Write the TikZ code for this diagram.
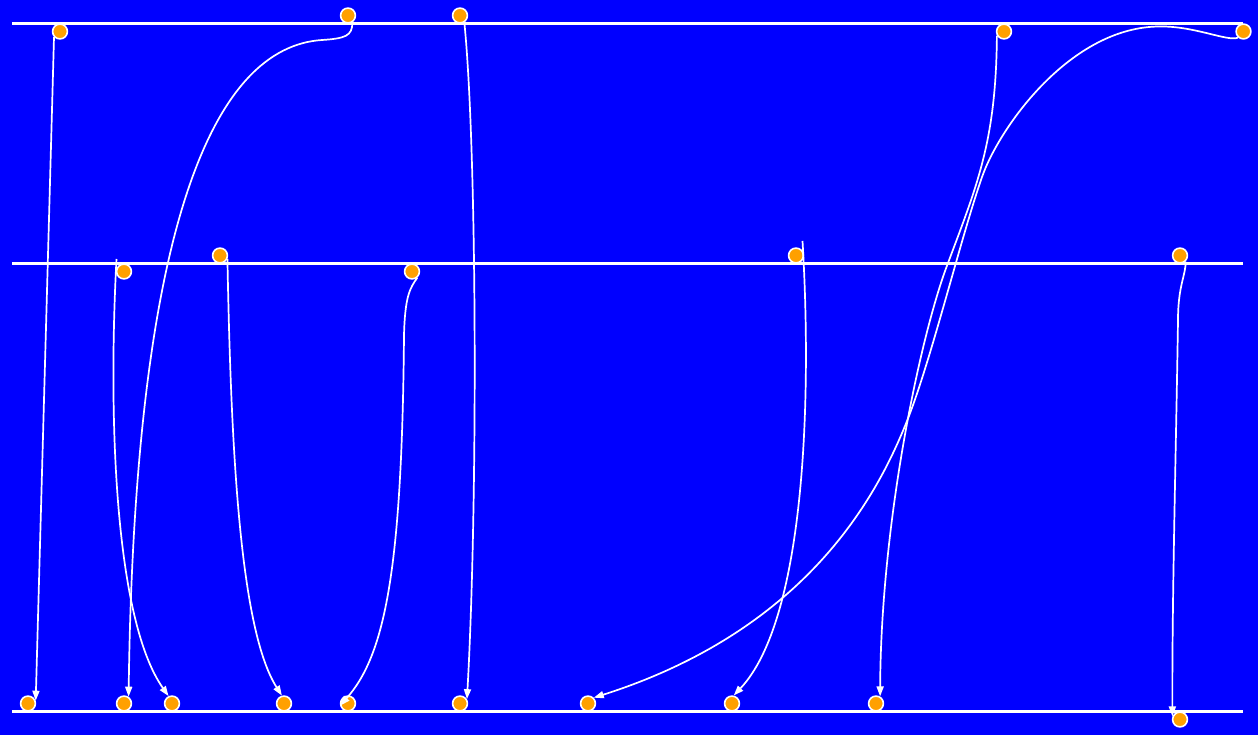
\documentclass[tikz,border=0pt]{standalone}
\usetikzlibrary{arrows.meta}
\definecolor{bg}{RGB}{0,0,255}
\definecolor{dot}{RGB}{255,160,0}
\begin{document}
\begin{tikzpicture}[x=1pt,y=-1pt,
  dotnode/.style={circle,fill=dot,draw=white,line width=1.6pt,minimum size=14.8pt,inner sep=0pt},
  guide/.style={white,line width=2.1pt},
  edge/.style={white,line width=1.7pt,-{Triangle[length=10pt,width=7pt]}}]
\fill[bg] (0,0) rectangle (1258,735);
\useasboundingbox (0,0) rectangle (1258,735);
% guide lines
\coordinate (L1a) at (12,23.5);  \coordinate (L1b) at (1243,23.5);
\coordinate (L2a) at (12,263.5); \coordinate (L2b) at (1243,263.5);
\coordinate (L3a) at (12,711.5); \coordinate (L3b) at (1243,711.5);
\draw[guide] (L1a) -- (L1b);
\draw[guide] (L2a) -- (L2b);
\draw[guide] (L3a) -- (L3b);
% top row
\node[dotnode] (t1) at (60,31.5) {};
\node[dotnode] (t2) at (348,15.5) {};
\node[dotnode] (t3) at (460,15.5) {};
\node[dotnode] (t4) at (1004,31.5) {};
\node[dotnode] (t5) at (1243.5,31.5) {};
% middle row
\node[dotnode] (m1) at (124,271.5) {};
\node[dotnode] (m2) at (220,255.5) {};
\node[dotnode] (m3) at (412,271.5) {};
\node[dotnode] (m4) at (796,255.5) {};
\node[dotnode] (m5) at (1180,255.5) {};
% bottom row
\node[dotnode] (b1) at (28,703.5) {};
\node[dotnode] (b2) at (124,703.5) {};
\node[dotnode] (b3) at (172,703.5) {};
\node[dotnode] (b4) at (284,703.5) {};
\node[dotnode] (b5) at (348,703.5) {};
\node[dotnode] (b6) at (460,703.5) {};
\node[dotnode] (b7) at (588,703.5) {};
\node[dotnode] (b8) at (732,703.5) {};
\node[dotnode] (b9) at (876,703.5) {};
\node[dotnode] (b10) at (1180,719.5) {};
% free ends
\coordinate (s6) at (116.5,259);
\coordinate (s9) at (802.5,241);
% edges
\draw[edge] (t1.-137) -- (b1.20);
\draw[edge] (t2.-58) .. controls (352.5,36) and (345,38.5) .. (322,40)
  .. controls (215,47) and (135,220) .. (b2.56);
\draw[edge] (t3.-58) .. controls (477,150) and (478,500) .. (b6.32);
\draw[edge] (t4.-150) .. controls (996,140) and (978,183) .. (948,263)
  .. controls (921,333) and (881,520) .. (b9.60);
\draw[edge] (t5.-132) .. controls (1228,42) and (1195,26) .. (1160,26.5)
  .. controls (1071,26.5) and (999.5,127) .. (982,177)
  .. controls (961,237) and (931,361) .. (907,421)
  .. controls (882,483) and (816,627) .. (b7.45);
\draw[edge] (s6) .. controls (108,420) and (115,620) .. (b3.115);
\draw[edge] (m2.-25) .. controls (231,450) and (240,630) .. (b4.105);
\draw[edge] (m3.-50) .. controls (410,288) and (405,296) .. (404,335)
  .. controls (402,570) and (385,655) .. (b5.195);
\draw[edge] (s9) .. controls (812,400) and (805,620) .. (b8.78);
\draw[edge] (m5.-47) .. controls (1186,275) and (1178,285) .. (1178,320)
  .. controls (1176,450) and (1172,600) .. (b10.158);
\end{tikzpicture}
\end{document}
